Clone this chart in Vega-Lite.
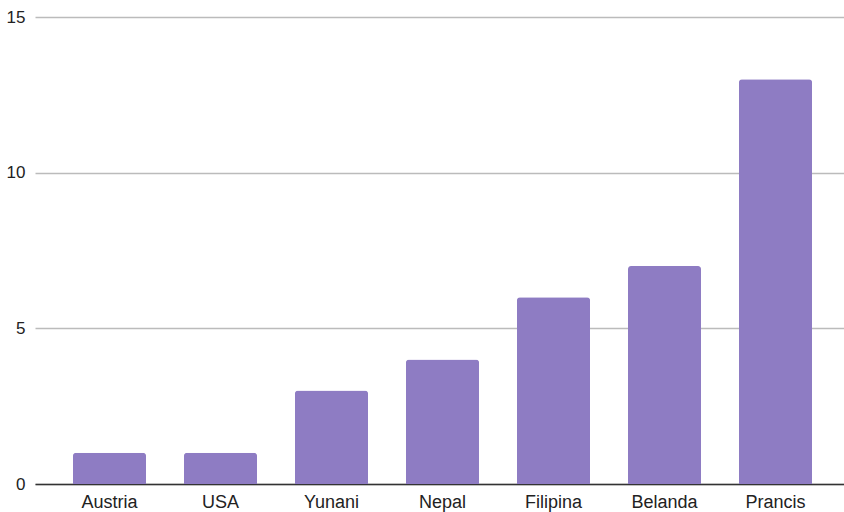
{
  "$schema": "https://vega.github.io/schema/vega-lite/v6.json",
  "width": 815,
  "height": 467,
  "autosize": "none",
  "padding": {"left": 35, "top": 17, "right": 0, "bottom": 28},
  "background": "#ffffff",
  "config": {"view": {"stroke": null}, "font": "Liberation Sans"},
  "data": {"values": [
    {"country": "Austria", "value": 1},
    {"country": "USA", "value": 1},
    {"country": "Yunani", "value": 3},
    {"country": "Nepal", "value": 4},
    {"country": "Filipina", "value": 6},
    {"country": "Belanda", "value": 7},
    {"country": "Prancis", "value": 13}
  ]},
  "mark": {"type": "bar", "color": "#8e7cc3", "cornerRadiusTopLeft": 3, "cornerRadiusTopRight": 3},
  "encoding": {
    "x": {"field": "country", "type": "nominal", "sort": null,
      "scale": {"paddingInner": 0.342, "paddingOuter": 0.342},
      "axis": {"title": null, "labelAngle": 0, "ticks": false, "domainColor": "#333333", "domainWidth": 1.5,
        "labelFontSize": 18, "labelColor": "#222222", "labelPadding": 9, "grid": false}},
    "y": {"field": "value", "type": "quantitative",
      "scale": {"domain": [0, 15]},
      "axis": {"title": null, "values": [0, 5, 10, 15], "ticks": false, "domain": false,
        "gridColor": "#bbbbbb", "gridWidth": 1.5, "labelFontSize": 17, "labelColor": "#222222", "labelPadding": 10}}
  }
}
